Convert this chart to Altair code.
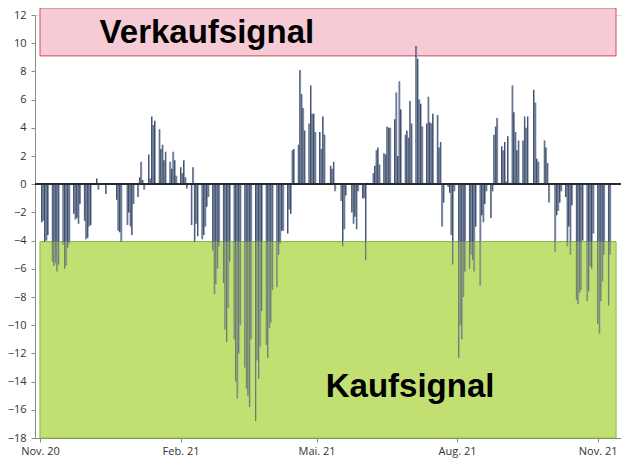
import altair as alt
import pandas as pd

# Weekly (Mon-Fri) indicator values, starting Mon 2 Nov 2020
weeks = [
    [-2.7, -2.6, -4.1, -4.0, -3.6],
    [-5.5, -5.8, -5.6, -6.2, -5.7],
    [-4.3, -6.0, -5.8, -4.5, -4.2],
    [-2.1, -2.5, -2.4, -2.8, -1.4],
    [-2.6, -3.9, -3.8, -3.0, -2.9],
    [0.0, 0.4, -0.4, 0.0, 0.0],
    [-0.7, 0.0, 0.0, 0.05, 0.0],
    [-1.1, -3.3, -3.4, -4.1, 0.0],
    [-2.9, -2.0, -3.0, -3.6, -1.4],
    [-0.9, 0.5, 1.6, 0.3, -0.4],
    [2.1, 0.4, 4.8, 4.2, 4.5],
    [3.9, 2.5, 2.8, 1.7, 2.3],
    [1.6, 1.1, 2.3, 1.7, 0.6],
    [1.2, 0.8, 1.7, 0.5, -0.3],
    [-2.9, 1.2, -4.1, -2.8, -3.7],
    [-3.9, -3.6, -3.0, -1.6, -0.9],
    [-4.7, -7.8, -7.1, -6.0, -4.4],
    [-7.0, -10.3, -11.2, -8.8, -5.5],
    [-11.0, -14.0, -15.2, -12.0, -10.0],
    [-13.0, -14.5, -15.0, -15.8, -11.0],
    [-16.8, -12.5, -13.8, -11.5, -9.0],
    [-11.4, -12.3, -10.2, -9.8, -7.5],
    [-7.3, -5.0, -4.2, -3.3, -3.3],
    [-3.5, -1.8, -2.1, 2.4, 2.5],
    [2.8, 8.1, 6.4, 5.4, 3.8],
    [4.3, 7.0, 5.0, 5.0, 3.7],
    [3.7, 2.5, 4.8, 3.5, 0.0],
    [1.3, 1.1, 1.6, -0.5, 0.0],
    [-1.2, -4.4, -3.2, -0.8, 0.0],
    [-2.0, -2.8, -2.3, -3.2, -0.5],
    [-1.0, -1.0, -5.4, 0.1, 0.0],
    [0.8, 1.3, 2.4, 2.6, 1.4],
    [2.2, 2.1, 4.1, 4.0, 4.0],
    [4.6, 6.5, 2.0, 7.3, 5.3],
    [3.5, 3.8, 3.3, 5.9, 4.3],
    [9.8, 8.9, 6.0, 5.7, 4.1],
    [4.3, 6.2, 4.4, 4.3, 5.0],
    [4.9, 2.6, 3.0, -3.0, -1.3],
    [-0.2, -0.6, -3.6, -5.7, -0.5],
    [-12.3, -10.0, -11.0, -8.0, -6.2],
    [-6.0, -5.0, -5.4, -6.2, -3.0],
    [-7.2, -2.2, -2.7, -1.4, -0.5],
    [-2.4, -0.5, 3.5, 4.1, 4.7],
    [2.7, 2.4, 3.0, 0.2, 3.4],
    [7.0, 5.1, 3.7, 2.4, 3.1],
    [3.1, 4.8, 4.0, 4.8, 0.0],
    [6.7, 5.8, 1.8, 1.6, 0.0],
    [3.1, 2.6, 1.5, -1.3, 0.0],
    [-4.8, -2.2, -1.9, -1.3, -0.5],
    [-0.9, -4.4, -3.0, -5.0, -1.5],
    [-8.2, -8.5, -7.7, -7.5, -4.0],
    [-8.3, -7.6, -5.8, -6.0, -3.5],
    [-9.9, -10.6, -8.3, -6.9, -5.0],
    [-8.6, -5.0],
]
values = [v for w in weeks for v in w]
dates = pd.bdate_range("2020-11-02", periods=len(values))
bars = pd.DataFrame({"date": dates, "value": values})

# axis settings
x_start, x_end = "2020-11-01", "2021-11-13"
y_min, y_max = -18, 12
tick_dates = ["2020-11-01", "2021-02-01", "2021-05-01", "2021-08-01", "2021-11-01"]
tick_labels = ["Nov. 20", "Feb. 21", "Mai. 21", "Aug. 21", "Nov. 21"]

# signal zones (sell zone runs up to the top edge of the chart)
sell_low, sell_high = 9.1, 12.5
buy_low, buy_high = -18, -4.07
zones = pd.DataFrame({
    "start": pd.to_datetime([x_start, x_start]),
    "end": pd.to_datetime([x_end, x_end]),
    "lo": [sell_low, buy_low],
    "hi": [sell_high, buy_high],
    "zone": ["sell", "buy"],
})
buy_zone = zones[zones["zone"] == "buy"]

labels = pd.DataFrame({
    "date": pd.to_datetime(["2020-12-10", "2021-05-07"]),
    "value": [10.0, -15.1],
    "text": ["Verkaufsignal", "Kaufsignal"],
})

label_map = "{" + ",".join(
    f"'{pd.Timestamp(d).month}-{pd.Timestamp(d).year}':'{t}'" for d, t in zip(tick_dates, tick_labels)
) + "}"

xscale = alt.Scale(domain=[alt.DateTime(year=2020, month=11, date=1),
                           alt.DateTime(year=2021, month=11, date=13)])
yscale = alt.Scale(domain=[y_min, y_max], nice=False, zero=False)

xaxis = alt.Axis(
    values=[alt.DateTime(year=pd.Timestamp(d).year, month=pd.Timestamp(d).month, date=1) for d in tick_dates],
    labelExpr=f"{label_map}[(month(datum.value)+1) + '-' + year(datum.value)]",
    title=None, grid=False, domainColor="#8a8a8a", tickColor="#8a8a8a", tickSize=4,
    labelFont="Open Sans", labelFontSize=11, labelColor="#333333", labelPadding=3,
    labelOverlap=False, labelFlush=False, tickCount=20,
)
yaxis = alt.Axis(
    values=list(range(-18, 13, 2)), title=None, grid=False,
    domainColor="#8a8a8a", tickColor="#8a8a8a", tickSize=4,
    labelFont="Open Sans", labelFontSize=11, labelColor="#333333", labelPadding=5,
    labelOverlap=False, labelFlush=False, tickCount=40,
)

zone_layer = alt.Chart(zones).mark_rect(strokeWidth=1).encode(
    x=alt.X("start:T", scale=xscale, axis=xaxis),
    x2="end:T",
    y=alt.Y("hi:Q", scale=yscale, axis=yaxis),
    y2="lo:Q",
    fill=alt.Fill("zone:N", scale=alt.Scale(domain=["sell", "buy"], range=["#F6CBD5", "#C2DF72"]), legend=None),
    stroke=alt.Stroke("zone:N", scale=alt.Scale(domain=["sell", "buy"], range=["#C8505A", "#6CB040"]), legend=None),
)

light_bars = alt.Chart(bars).mark_bar(width=1.1, xOffset=0.8, color="#8E9BB2").encode(
    x=alt.X("date:T", scale=xscale, axis=xaxis),
    y=alt.Y("value:Q", scale=yscale, axis=yaxis),
    y2=alt.datum(0),
)
dark_bars = alt.Chart(bars).mark_bar(width=0.8, color="#1C2F52").encode(
    x=alt.X("date:T", scale=xscale, axis=xaxis),
    y=alt.Y("value:Q", scale=yscale, axis=yaxis),
    y2=alt.datum(0),
)

# translucent green wash over the bars inside the buy zone
buy_wash = alt.Chart(buy_zone).mark_rect(color="#C2DF72", opacity=0.35).encode(
    x=alt.X("start:T", scale=xscale, axis=xaxis),
    x2="end:T",
    y=alt.Y("hi:Q", scale=yscale, axis=yaxis),
    y2="lo:Q",
)

zero_line = alt.Chart(bars).mark_rule(color="#2a2a2a", strokeWidth=1).encode(
    y=alt.datum(0)
)

text_layer = alt.Chart(labels).mark_text(
    align="left", baseline="alphabetic", font="Liberation Sans", fontWeight="bold",
    fontSize=33, color="#000000",
).encode(
    x=alt.X("date:T", scale=xscale, axis=xaxis),
    y=alt.Y("value:Q", scale=yscale, axis=yaxis),
    text="text:N",
)

chart = alt.layer(zone_layer, light_bars, dark_bars, buy_wash, zero_line, text_layer).properties(
    width=586, height=423,
    autosize=alt.AutoSizeParams(type="none"),
    padding={"left": 27, "top": 7, "right": 0, "bottom": 20},
).configure_view(stroke=None).configure(background="white")

chart.save("out.html", embed_options={"renderer": "svg", "actions": False})
